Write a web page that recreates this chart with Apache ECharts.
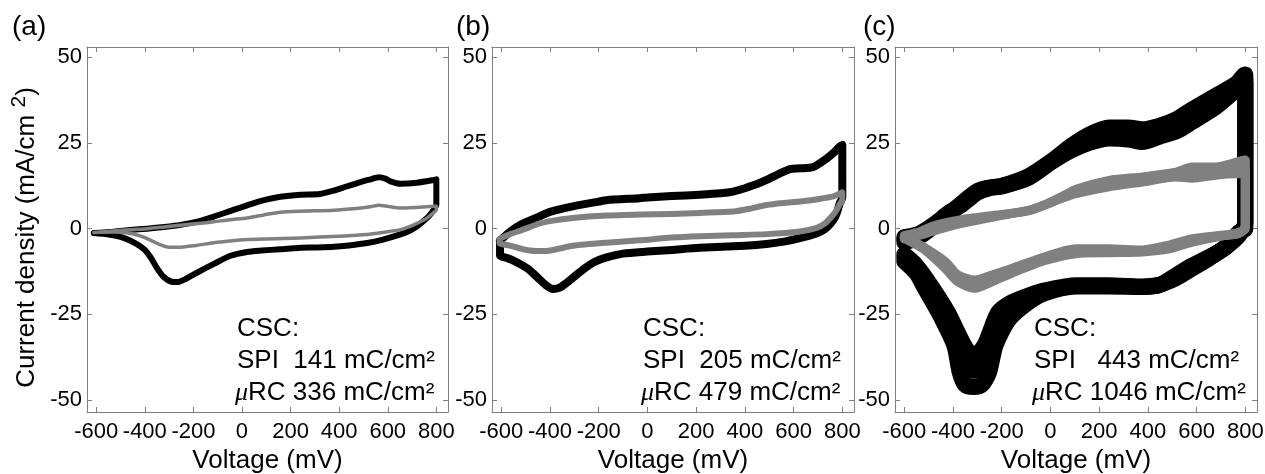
<!DOCTYPE html>
<html>
<head>
<meta charset="utf-8">
<title>CV curves</title>
<script src="https://cdn.jsdelivr.net/npm/echarts@6/dist/echarts.min.js"></script>
<style>
html, body { margin: 0; padding: 0; background: #fff; }
#chart { width: 1265px; height: 474px; }
</style>
</head>
<body>
<div id="chart"></div>
<script>
// axis ticks and ranges (mV / mA/cm2)
var xTicks = [-600, -400, -200, 0, 200, 400, 600, 800];
var yTicks = [-50, -25, 0, 25, 50];
var xRange = [-638, 848];
var yRange = [-53.5, 53];

var panelNames = ['(a)', '(b)', '(c)'];
var spiCsc = ['SPI  141 mC/cm²', 'SPI  205 mC/cm²', 'SPI   443 mC/cm²'];
var urcCsc = ['RC 336 mC/cm²', 'RC 479 mC/cm²', 'RC 1046 mC/cm²'];

// (a) black = μRC, gray = SPI ; one loop each [mV, mA/cm2]
var aBlack = [[-610,-1.3],[-527,-0.9],[-460,-0.4],[-390,0],[-320,0.5],[-253,1.1],[-180,2.1],[-116,3.5],[-50,5.1],[21,6.8],[90,8.3],[158,9.3],[241,9.9],[320,10.1],[378,11.1],[430,12.3],[488,13.6],[530,14.4],[563,15],[590,14.6],[611,13.8],[652,13.1],[720,13.4],[789,14.2],[800,14.4],
  [800,7],[789,5.5],[769,3.6],[740,1.8],[721,0.7],[690,-0.6],[652,-1.7],[580,-3.2],[515,-4.2],[440,-4.9],[378,-5.3],[300,-5.5],[241,-5.6],[158,-6],[80,-6.4],[21,-6.8],[-47,-7.9],[-116,-10.3],[-184,-12.8],[-230,-14.6],[-265,-15.6],[-290,-15.5],[-322,-14.1],[-350,-11.5],[-375,-8.5],[-400,-6.2],[-430,-4.6],[-459,-3.5],[-500,-2.4],[-550,-1.7],[-610,-1.3]];
var aGray = [[-610,-1.1],[-527,-0.7],[-460,-0.3],[-390,0],[-320,0.5],[-253,1],[-180,1.5],[-116,2],[-50,2.6],[21,3.1],[90,4],[158,4.8],[241,5.1],[378,5.4],[470,5.9],[530,6.4],[563,6.8],[600,6.5],[652,6],[720,6.2],[789,6.5],[800,6.5],
  [800,5.5],[782,4.3],[760,3],[734,2],[700,0.9],[652,-0.3],[580,-1.1],[515,-1.7],[400,-2.2],[241,-2.7],[100,-3],[21,-3.2],[-50,-3.6],[-116,-4.1],[-190,-4.9],[-253,-5.4],[-300,-5.4],[-340,-4.6],[-390,-2.9],[-430,-1.9],[-470,-1.3],[-530,-1],[-610,-1.1]];

// (b)
var bBlack = [[-605,-3.5],[-566,-1],[-520,1.2],[-443,3.6],[-400,4.9],[-306,6.5],[-200,7.9],[-168,8.3],[-32,8.9],[0,9.1],[100,9.5],[215,9.9],[300,10.3],[352,10.8],[400,11.8],[450,13],[489,14.2],[540,16],[585,17.4],[626,17.6],[681,18],[736,20.5],[770,22.5],[790,24],[800,24.4],
  [800,9],[790,7.5],[777,4.5],[763,2.5],[740,0.6],[722,-0.4],[690,-1.5],[626,-2.8],[560,-3.8],[489,-4.5],[400,-5],[215,-5.6],[100,-6.2],[0,-6.7],[-100,-7.3],[-168,-8.4],[-220,-9.8],[-264,-11.9],[-300,-14],[-333,-15.9],[-360,-17.2],[-388,-17.6],[-415,-16.6],[-443,-14.8],[-480,-12.3],[-511,-10.8],[-550,-9.3],[-580,-8.5],[-605,-7.8],[-605,-3.5]];
var bGray = [[-607,-3],[-570,-1.8],[-511,-0.3],[-443,1.5],[-400,2.2],[-306,3.1],[-168,3.8],[-32,4.1],[100,4.3],[215,4.6],[352,5],[420,5.8],[489,6.9],[560,7.5],[626,7.9],[700,8.6],[763,9.4],[790,10.3],[800,10.6],
  [800,8.5],[790,7.2],[777,5.5],[757,3.6],[730,1.6],[695,0.2],[620,-0.9],[489,-1.6],[350,-1.9],[215,-2.2],[100,-2.6],[-32,-3.4],[-168,-4.1],[-306,-5],[-360,-5.8],[-415,-6.5],[-460,-6.5],[-511,-6],[-560,-5],[-607,-4.2],[-607,-3]];

// (c) several overlapping cycles: upper / middle / lower edge of each band
var cBlackHi = [[-600,-4],[-540,-2.5],[-473,1],[-420,4],[-363,7.5],[-300,11],[-250,12],[-199,12.5],[-90,15.3],[6,19.8],[88,24.3],[160,27.5],[241,29.5],[320,29.5],[378,29],[446,30],[520,32],[583,34.9],[679,38.8],[761,42.2],[795,44.9],[800,45],
  [800,2],[774,-2],[720,-5.4],[651,-8.3],[583,-10.7],[515,-13.6],[446,-16.5],[378,-17],[241,-16.5],[105,-16.5],[-22,-18],[-90,-19.5],[-159,-21.5],[-215,-24.5],[-270,-33.9],[-316,-37.4],[-355,-33.9],[-423,-24.2],[-511,-14.5],[-560,-10],[-600,-7.5]];
var cBlackMid = [[-600,-3.2],[-540,-2],[-473,1.2],[-420,4.2],[-363,7.2],[-300,10.7],[-250,11.9],[-199,12.4],[-90,15],[6,19.6],[88,23.6],[160,26.2],[241,27.9],[320,27.7],[378,27.1],[446,28.4],[520,30.2],[583,33],[679,37.1],[761,41.3],[795,43.6],[800,43.7],
  [800,1],[774,-1.5],[720,-5.4],[651,-8.5],[583,-11.2],[515,-14],[446,-16.5],[378,-17],[241,-16.7],[105,-16.7],[-22,-18.4],[-90,-20.5],[-160,-23.5],[-220,-29],[-262,-37],[-298,-41.5],[-335,-41.5],[-372,-35.5],[-420,-28],[-480,-19.5],[-540,-13.5],[-600,-8.5]];
var cBlackLo = [[-600,-2.5],[-540,-1.5],[-473,1.5],[-420,4.5],[-363,7],[-300,10.5],[-250,11.8],[-199,12.3],[-90,14.8],[6,19.5],[88,22.9],[160,25],[241,26.3],[320,26],[378,25.3],[446,26.8],[520,28.5],[583,31.2],[679,35.5],[761,40.4],[795,42.3],[800,42.5],
  [800,0],[774,-1],[720,-5.3],[651,-8.7],[583,-11.6],[515,-14.5],[446,-16.4],[378,-16.9],[241,-16.9],[105,-16.9],[-22,-18.8],[-90,-21.5],[-170,-26.5],[-225,-34],[-252,-42],[-282,-45.6],[-315,-46.2],[-350,-45.6],[-372,-42],[-395,-34],[-461,-24.2],[-515,-17.5],[-550,-13],[-600,-9.5]];
var cGrayHi = [[-600,-3],[-540,-2],[-473,-0.5],[-360,1.6],[-227,3.5],[-90,5.3],[-22,7],[50,9.5],[105,11.5],[241,14.1],[378,15.1],[515,16.5],[560,17.6],[583,18],[679,18],[760,19.3],[795,20],[800,20],
  [800,1],[774,-1.4],[692,-2],[583,-2.9],[487,-4.8],[378,-6.2],[241,-5.9],[105,-5.9],[-22,-8.2],[-159,-11.6],[-240,-13.5],[-309,-15],[-380,-13.5],[-432,-9.6],[-520,-5.4],[-584,-3],[-600,-2.5]];
var cGrayMid = [[-600,-2.5],[-540,-1.5],[-473,0.2],[-360,2.1],[-227,3.7],[-90,5.3],[-22,7],[50,9.2],[105,10.9],[241,13.2],[378,14.4],[515,15.8],[583,16.4],[679,16.8],[760,17.7],[795,18],[800,18],
  [800,0.5],[774,-1.3],[692,-2.2],[583,-3.4],[487,-5.4],[378,-6.5],[241,-6.5],[105,-6.6],[-22,-8.8],[-159,-12.3],[-240,-14.5],[-309,-16.2],[-380,-14.5],[-432,-10.6],[-520,-5.7],[-584,-3.2],[-600,-2.5]];
var cGrayLo = [[-600,-2],[-540,-1],[-473,1],[-360,2.7],[-227,3.9],[-90,5.2],[-22,6.9],[50,8.9],[105,10.2],[241,12.2],[378,13.6],[515,15.1],[583,14.7],[679,15.6],[760,16],[795,16],[800,16],
  [800,0],[774,-1.1],[692,-2.3],[583,-3.9],[487,-5.9],[378,-6.8],[241,-7],[105,-7.3],[-22,-9.3],[-159,-13],[-240,-15.5],[-309,-17.4],[-380,-15.5],[-432,-11.6],[-520,-6],[-584,-3.4],[-600,-2.5]];

var FONT = 'Liberation Sans, Arial, sans-serif';
var FRAME = '#7f7f7f';
var BLACK = '#000000';
var GRAY = '#808080';

// plot boxes in px (fixed, do not shrink for labels)
var grids = [
  { left: 87, top: 47, width: 361, height: 365, outerBoundsMode: 'none', containLabel: false },
  { left: 492, top: 47, width: 362, height: 365, outerBoundsMode: 'none', containLabel: false },
  { left: 895, top: 47, width: 362, height: 365, outerBoundsMode: 'none', containLabel: false }
];

function xAxisFor(i, pos) {
  return {
    type: 'value', gridIndex: i, position: pos,
    min: xRange[0], max: xRange[1],
    axisLine: { show: true, onZero: false, lineStyle: { color: FRAME, width: 1 } },
    axisTick: { show: true, inside: true, length: 5, customValues: xTicks, lineStyle: { color: FRAME } },
    axisLabel: { show: pos === 'bottom', customValues: xTicks, margin: 9, color: '#000', fontSize: 22, fontFamily: FONT },
    splitLine: { show: false },
    name: pos === 'bottom' ? 'Voltage (mV)' : '',
    nameLocation: 'middle', nameGap: 36,
    nameTextStyle: { color: '#000', fontSize: 26, fontFamily: FONT }
  };
}

function yAxisFor(i, pos) {
  var ax = {
    type: 'value', gridIndex: i, position: pos,
    min: yRange[0], max: yRange[1],
    axisLine: { show: true, onZero: false, lineStyle: { color: FRAME, width: 1 } },
    axisTick: { show: true, inside: true, length: 5, customValues: yTicks, lineStyle: { color: FRAME } },
    axisLabel: { show: pos === 'left', customValues: yTicks, margin: 5, color: '#000', fontSize: 22, fontFamily: FONT },
    splitLine: { show: false }
  };
  if (i === 0 && pos === 'left') {
    ax.name = 'Current density (mA/cm {sup|2})';
    ax.nameLocation = 'middle';
    ax.nameGap = 42;
    ax.nameTextStyle = {
      color: '#000', fontSize: 26, fontFamily: FONT, lineHeight: 36, verticalAlign: 'bottom',
      padding: [0, 16, 0, 0],
      rich: { sup: { color: '#000', fontSize: 21, fontFamily: FONT, lineHeight: 21, verticalAlign: 'top' } }
    };
  }
  return ax;
}

//生成一条循环伏安曲线
function cv(data, i, color, width) {
  return {
    type: 'line', xAxisIndex: i * 2, yAxisIndex: i * 2,
    data: data, showSymbol: false, smooth: 0.25, silent: true,
    lineStyle: { color: color, width: width, cap: 'round', join: 'round' }
  };
}

var xAxes = [], yAxes = [], texts = [];
for (var i = 0; i < 3; i++) {
  xAxes.push(xAxisFor(i, 'bottom'), xAxisFor(i, 'top'));
  yAxes.push(yAxisFor(i, 'left'), yAxisFor(i, 'right'));
}

// panel letters and CSC notes
var letterX = [12, 456, 863];
var noteX = [237, 643, 1034];
for (var k = 0; k < 3; k++) {
  texts.push({ type: 'text', x: letterX[k], y: 27, silent: true,
    style: { text: panelNames[k], fontSize: 28, fontFamily: FONT, fill: '#000', verticalAlign: 'middle' } });
  texts.push({ type: 'text', x: noteX[k], y: 329, silent: true,
    style: { text: 'CSC:', fontSize: 26, fontFamily: FONT, fill: '#000', verticalAlign: 'middle' } });
  texts.push({ type: 'text', x: noteX[k], y: 361, silent: true,
    style: { text: spiCsc[k], fontSize: 26, fontFamily: FONT, fill: '#000', verticalAlign: 'middle' } });
  texts.push({ type: 'text', x: noteX[k] - 2, y: 393, silent: true,
    style: { text: '{mu|μ}' + urcCsc[k], fontSize: 26, fontFamily: FONT, fill: '#000', verticalAlign: 'middle',
      rich: { mu: { fontSize: 26, fontStyle: 'italic', fontFamily: 'Liberation Serif, serif', fill: '#000' } } } });
}

var option = {
  animation: false,
  backgroundColor: '#fff',
  grid: grids,
  xAxis: xAxes,
  yAxis: yAxes,
  graphic: texts,
  series: [
    cv(aBlack, 0, BLACK, 6),
    cv(aGray, 0, GRAY, 3.5),
    cv(bBlack, 1, BLACK, 8),
    cv(bGray, 1, GRAY, 6),
    cv(cBlackHi, 2, BLACK, 16),
    cv(cBlackMid, 2, BLACK, 16),
    cv(cBlackLo, 2, BLACK, 16),
    cv(cGrayHi, 2, GRAY, 9),
    cv(cGrayMid, 2, GRAY, 9),
    cv(cGrayLo, 2, GRAY, 9)
  ]
};

var myChart = echarts.init(document.getElementById('chart'));
myChart.setOption(option, true);
</script>
</body>
</html>
